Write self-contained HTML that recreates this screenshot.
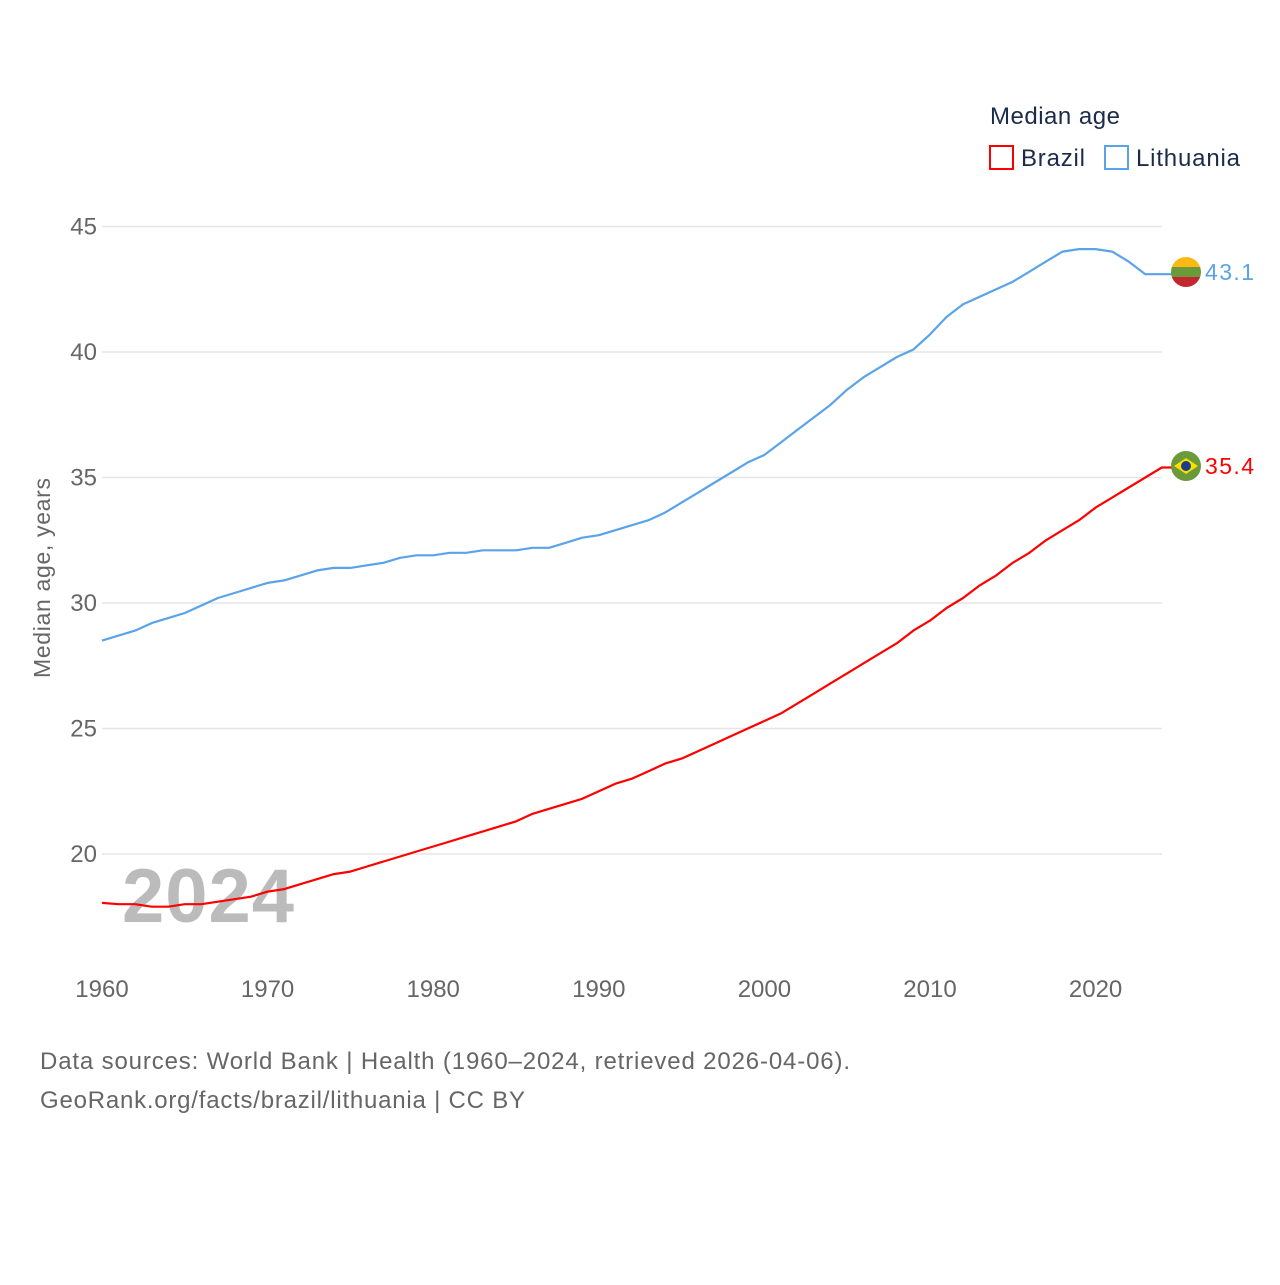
<!DOCTYPE html>
<html><head><meta charset="utf-8"><style>
body{margin:0;background:#fff;width:1280px;height:1280px;overflow:hidden;font-family:"Liberation Sans",sans-serif}
</style></head><body>
<svg width="1280" height="1280" id="c" font-family="Liberation Sans, sans-serif">
<text x="990" y="124" font-size="24" fill="#1c2b4a" textLength="130">Median age</text>
<g><rect x="990" y="146" width="23" height="23" fill="none" stroke="#f00" stroke-width="2"/><text x="1021" y="166" font-size="24" fill="#1c2b4a" textLength="64">Brazil</text></g>
<g><rect x="1105" y="146" width="23" height="23" fill="none" stroke="#5ba3e8" stroke-width="2"/><text x="1136" y="166" font-size="24" fill="#1c2b4a" textLength="104">Lithuania</text></g>
<text transform="translate(50,578) rotate(-90)" text-anchor="middle" font-size="23" fill="#666" textLength="200">Median age, years</text>
<g id="grid"></g><g id="yt"></g><g id="xt"></g>
<text x="122" y="922" font-size="76" font-weight="bold" fill="#bbb" textLength="172">2024</text>
<g id="lines"></g>
<g><clipPath id="lc"><circle cx="1186" cy="272" r="15"/></clipPath><g clip-path="url(#lc)"><rect x="1170" y="256" width="32" height="11" fill="#fdb913"/><rect x="1170" y="267" width="32" height="10" fill="#6a9a3a"/><rect x="1170" y="277" width="32" height="12" fill="#c1272d"/></g></g>
<g><circle cx="1186" cy="466" r="15" fill="#6a9a3a"/><polygon points="1174,466 1186,458 1198,466 1186,474" fill="#fedf00"/><circle cx="1186" cy="466" r="5" fill="#1c3d8c"/></g>
<text x="1205" y="280" font-size="23" fill="#5ba3e8" textLength="49">43.1</text>
<text x="1205" y="474" font-size="23" fill="#f00" textLength="49">35.4</text>
<text x="40" y="1069" font-size="24" fill="#666" textLength="810">Data sources: World Bank | Health (1960–2024, retrieved 2026-04-06).</text>
<text x="40" y="1108" font-size="24" fill="#666" textLength="485">GeoRank.org/facts/brazil/lithuania | CC BY</text>
</svg>
<script>
const years=[];for(let y=1960;y<=2024;y++)years.push(y);
const lithuania=[28.5,28.7,28.9,29.2,29.4,29.6,29.9,30.2,30.4,30.6,30.8,30.9,31.1,31.3,31.4,31.4,31.5,31.6,31.8,31.9,31.9,32.0,32.0,32.1,32.1,32.1,32.2,32.2,32.4,32.6,32.7,32.9,33.1,33.3,33.6,34.0,34.4,34.8,35.2,35.6,35.9,36.4,36.9,37.4,37.9,38.5,39.0,39.4,39.8,40.1,40.7,41.4,41.9,42.2,42.5,42.8,43.2,43.6,44.0,44.1,44.1,44.0,43.6,43.1,43.1];
const brazil=[18.05,18.0,18.0,17.9,17.9,18.0,18.0,18.1,18.2,18.3,18.5,18.6,18.8,19.0,19.2,19.3,19.5,19.7,19.9,20.1,20.3,20.5,20.7,20.9,21.1,21.3,21.6,21.8,22.0,22.2,22.5,22.8,23.0,23.3,23.6,23.8,24.1,24.4,24.7,25.0,25.3,25.6,26.0,26.4,26.8,27.2,27.6,28.0,28.4,28.9,29.3,29.8,30.2,30.7,31.1,31.6,32.0,32.5,32.9,33.3,33.8,34.2,34.6,35.0,35.4];
const yTicks=[20,25,30,35,40,45];
const xTicks=[1960,1970,1980,1990,2000,2010,2020];
const X=v=>102+(v-1960)*16.56, Y=v=>854-(v-20)*25.1;
const NS="http://www.w3.org/2000/svg";
function mk(t,a,p){const e=document.createElementNS(NS,t);for(const k in a)e.setAttribute(k,a[k]);p.appendChild(e);return e;}
const g=document.getElementById('grid'),yt=document.getElementById('yt'),xt=document.getElementById('xt'),L=document.getElementById('lines');
yTicks.forEach(v=>{
 const l=mk('line',{x1:102,x2:1162,y1:Y(v),y2:Y(v),stroke:'#e6e6e6','stroke-width':1.5},g);
 
 
 const t=mk('text',{x:97,y:Y(v)+8,'text-anchor':'end','font-size':24,fill:'#666'},yt);t.textContent=v;
 
 
});
xTicks.forEach(v=>{
 const t=mk('text',{x:X(v),y:997,'text-anchor':'middle','font-size':24,fill:'#666'},xt);t.textContent=v;
 
 
});
function line(arr,col,name){
 let d=arr.map((v,i)=>(i?'L':'M')+X(years[i]).toFixed(1)+','+Y(v).toFixed(1)).join('');
 d+='L'+(X(years[years.length-1])+10)+','+Y(arr[arr.length-1]).toFixed(1);
 const p=mk('path',{d:d,fill:'none',stroke:col,'stroke-width':2.2,'stroke-linejoin':'round'},L);
 
 
}
line(lithuania,'#5ba3e8','lithuania-line');
line(brazil,'#f00','brazil-line');
</script>
</body></html>
